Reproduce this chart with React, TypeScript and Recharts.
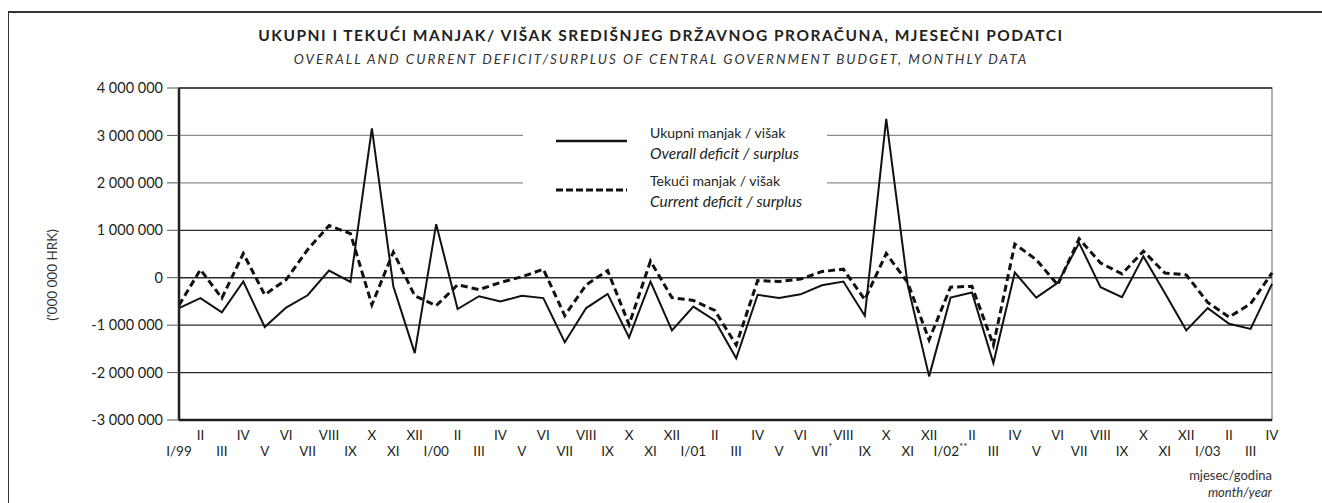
import React from "react";
import {
  LineChart,
  Line,
  XAxis,
  YAxis,
  ReferenceLine,
  ReferenceArea,
} from "recharts";

// month labels, I/99 .. IV/03 (asterisks are footnote marks)
const months = [
  "I/99", "II", "III", "IV", "V", "VI", "VII", "VIII", "IX", "X", "XI", "XII",
  "I/00", "II", "III", "IV", "V", "VI", "VII", "VIII", "IX", "X", "XI", "XII",
  "I/01", "II", "III", "IV", "V", "VI", "VII*", "VIII", "IX", "X", "XI", "XII",
  "I/02**", "II", "III", "IV", "V", "VI", "VII", "VIII", "IX", "X", "XI", "XII",
  "I/03", "II", "III", "IV",
];

// Ukupni manjak / višak (overall)
const overall = [
  -640000, -430000, -730000, -80000, -1040000, -630000, -370000, 150000, -90000, 3150000, -180000, -1590000,
  1130000, -660000, -390000, -500000, -380000, -430000, -1360000, -640000, -340000, -1260000, -80000, -1110000,
  -610000, -900000, -1700000, -360000, -430000, -350000, -160000, -80000, -800000, 3350000, -150000, -2080000,
  -420000, -310000, -1800000, 110000, -420000, -110000, 730000, -200000, -410000, 450000, -320000, -1110000,
  -640000, -970000, -1080000, -130000,
];

// Tekući manjak / višak (current)
const current = [
  -580000, 170000, -430000, 510000, -360000, -40000, 590000, 1100000, 930000, -570000, 540000, -380000,
  -590000, -150000, -250000, -100000, 20000, 180000, -800000, -150000, 150000, -990000, 350000, -420000,
  -480000, -690000, -1420000, -60000, -80000, -30000, 130000, 180000, -460000, 510000, -100000, -1310000,
  -200000, -180000, -1420000, 710000, 380000, -150000, 820000, 310000, 80000, 560000, 100000, 60000,
  -520000, -830000, -550000, 100000,
];

const yTicks = [-3000000, -2000000, -1000000, 0, 1000000, 2000000, 3000000, 4000000];

const data = months.map((m, i) => ({ month: m, overall: overall[i], current: current[i] }));

const FONT = "Lato, 'Open Sans', sans-serif";
const INK = "#231f20";

const fmt = (v: number) => {
  if (v === 0) return "0";
  const s = String(Math.abs(v)).replace(/\B(?=(\d{3})+(?!\d))/g, " ");
  return v < 0 ? "-" + s : s;
};

function MonthTick(props: any) {
  const { x, y, payload } = props;
  const label: string = payload.value;
  const idx: number = payload.index;
  const stars = label.replace(/[^*]/g, "");
  const text = label.replace(/\*/g, "");
  const row = idx % 2 === 1 ? 20 : 36; // even months on top row
  return (
    <text x={x} y={y + row} textAnchor="middle" fontSize={13.5} fill={INK} fontFamily={FONT}>
      {text}
      {stars && (
        <tspan dy={-6} fontSize={10}>
          {stars}
        </tspan>
      )}
    </text>
  );
}

export default function App() {
  return (
    <div
      style={{
        position: "absolute",
        left: 0,
        top: 0,
        width: 1322,
        height: 503,
        background: "#fff",
        overflow: "hidden",
        fontFamily: FONT,
        color: INK,
      }}
    >
      <div
        style={{
          position: "absolute",
          left: 8,
          top: 11,
          width: 1400,
          height: 600,
          borderLeft: "1px solid #333",
          borderTop: "2px solid #333",
        }}
      />
      <div
        style={{
          position: "absolute",
          left: 0,
          top: 26,
          width: 1322,
          textAlign: "center",
          fontWeight: 700,
          fontSize: 15.5,
          letterSpacing: 1.5,
        }}
      >
        UKUPNI I TEKUĆI MANJAK/ VIŠAK SREDIŠNJEG DRŽAVNOG PRORAČUNA, MJESEČNI PODATCI
      </div>
      <div
        style={{
          position: "absolute",
          left: 0,
          top: 51,
          width: 1322,
          textAlign: "center",
          fontStyle: "italic",
          fontSize: 13.5,
          letterSpacing: 2,
          color: "#333",
        }}
      >
        OVERALL AND CURRENT DEFICIT/SURPLUS OF CENTRAL GOVERNMENT BUDGET, MONTHLY DATA
      </div>

      <div style={{ position: "absolute", left: 0, top: 0 }}>
        <LineChart
          width={1322}
          height={503}
          data={data}
          margin={{ top: 88, right: 50, left: 0, bottom: 0 }}
        >
          <ReferenceArea
            y1={-3000000}
            y2={4000000}
            fill="none"
            stroke="#999"
            strokeWidth={1.5}
            ifOverflow="visible"
          />
          {yTicks
            .filter((t) => t > -3000000)
            .map((t) => (
              <ReferenceLine
                key={t}
                y={t}
                stroke={t === 2000000 || t === 3000000 ? "#8c8c8c" : "#2a2a2a"}
                strokeWidth={t === 0 ? 1.6 : 1.3}
              />
            ))}
          <XAxis
            dataKey="month"
            interval={0}
            height={83}
            tickLine={false}
            tickSize={0}
            tickMargin={0}
            axisLine={{ stroke: "#231f20", strokeWidth: 2.5 }}
            tick={<MonthTick />}
          />
          <YAxis
            width={179}
            domain={[-3000000, 4000000]}
            ticks={yTicks}
            tickFormatter={fmt}
            tickSize={12}
            tickMargin={4}
            tickLine={{ stroke: "#555" }}
            axisLine={{ stroke: "#231f20", strokeWidth: 2.5 }}
            tick={{ fontSize: 14.5, fill: INK, fontFamily: FONT }}
            allowDataOverflow
          />
          <Line
            type="linear"
            dataKey="overall"
            stroke="#111"
            strokeWidth={2}
            dot={false}
            isAnimationActive={false}
          />
          <Line
            type="linear"
            dataKey="current"
            stroke="#111"
            strokeWidth={3}
            strokeDasharray="7 4"
            dot={false}
            isAnimationActive={false}
          />
        </LineChart>
      </div>

      {/* legend box, covers the grid lines behind it */}
      <div
        style={{
          position: "absolute",
          left: 523,
          top: 121,
          width: 304,
          height: 94,
          background: "#fff",
          fontSize: 14,
        }}
      >
        <svg width={304} height={94} style={{ position: "absolute", left: 0, top: 0 }}>
          <line x1={33} x2={104} y1={20} y2={20} stroke="#111" strokeWidth={2.5} />
          <line x1={33} x2={104} y1={69} y2={69} stroke="#111" strokeWidth={3} strokeDasharray="7 3" />
        </svg>
        <div style={{ position: "absolute", left: 127, top: 2, lineHeight: "20px" }}>
          <div>Ukupni manjak / višak</div>
          <div style={{ fontStyle: "italic", fontSize: 15.5 }}>Overall deficit / surplus</div>
        </div>
        <div style={{ position: "absolute", left: 127, top: 50, lineHeight: "20px" }}>
          <div>Tekući manjak / višak</div>
          <div style={{ fontStyle: "italic", fontSize: 15.5 }}>Current deficit / surplus</div>
        </div>
      </div>

      <div
        style={{
          position: "absolute",
          left: 52,
          top: 275,
          transform: "translate(-50%, -50%) rotate(-90deg)",
          whiteSpace: "nowrap",
          fontSize: 13.5,
          color: "#333",
        }}
      >
        ('000 000 HRK)
      </div>

      <div
        style={{
          position: "absolute",
          right: 1322 - 1272,
          top: 467,
          textAlign: "right",
          fontSize: 13,
          lineHeight: "17px",
          color: "#333",
        }}
      >
        <div>mjesec/godina</div>
        <div style={{ fontStyle: "italic" }}>month/year</div>
      </div>
    </div>
  );
}
